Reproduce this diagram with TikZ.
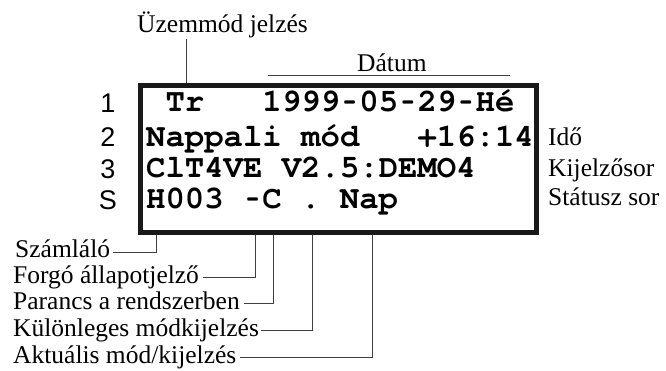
\documentclass[tikz,border=0pt]{standalone}
\usepackage{fontspec}
\usepackage{graphicx}
\setmainfont{Liberation Serif}
\newfontfamily\monof{TeX Gyre Cursor}
\newfontfamily\sansf{Liberation Sans}
\newcommand{\msp}{\hphantom{0}}
\newcommand{\hy}{\makebox[0.6em][c]{\scalebox{0.65}[1]{-}}}
\begin{document}
\begin{tikzpicture}[x=1pt,y=-1pt,
  lbl/.style={inner sep=0pt, anchor=base west, font=\fontsize{25.5}{26}\selectfont},
  mono/.style={inner sep=0pt, anchor=base west, font=\monof\bfseries\fontsize{32.3}{33}\selectfont},
  rown/.style={inner sep=0pt, anchor=base, font=\sansf\fontsize{27}{27}\selectfont},
  lead/.style={draw=black!75, line width=0.9pt},
  frame/.style={draw=black!90, line width=5pt, inner sep=0pt, outer sep=0pt,
    minimum width=396pt, minimum height=147pt, anchor=north west}]
\useasboundingbox (0,0) rectangle (666,371);

% display frame
\node[frame] (box) at (140,86) {};

% row numbers
\node[rown] (n1) at (108,113) {1};
\node[rown] (n2) at (108,147) {2};
\node[rown] (n3) at (108,179) {3};
\node[rown] (n4) at (108,210) {S};

% display rows
\node[mono] (r1) at (146,112) {\msp Tr\msp\msp\msp 1999\hy 05\hy 29\hy Hé};
\node[mono] (r2) at (146,147) {Nappali\msp mód\msp\msp\msp +16:14};
\node[mono] (r3) at (146,178) {ClT4VE\msp V2.5:DEMO4};
\node[mono] (r4) at (146,209) {H003\msp \hy C\msp .\msp Nap};

% top labels
\node[lbl] (uz) at (137,33) {Üzemmód jelzés};
\coordinate (tTr) at (186,83);
\draw[lead] (uz.south -| tTr) -- (tTr);
\node[lbl] (dat) at (357,72) {Dátum};
\coordinate (dL) at (268,75);
\coordinate (dR) at (510,75);
\draw[lead] (dL) -- (dR);

% right labels
\node[lbl] (ido) at (548,146) {Idő};
\node[lbl] (kij) at (548,177) {Kijelzősor};
\node[lbl] (sta) at (548,206) {Státusz sor};

% bottom labels
\node[lbl] (b1) at (15,258) {Számláló};
\node[lbl] (b2) at (13,283) {Forgó állapotjelző};
\node[lbl] (b3) at (13,309) {Parancs a rendszerben};
\node[lbl] (b4) at (13,336) {Különleges módkijelzés};
\node[lbl] (b5) at (13,363) {Aktuális mód/kijelzés};

\coordinate (t1) at (156,235);
\coordinate (t2) at (255,235);
\coordinate (t3) at (273,235);
\coordinate (t4) at (312,235);
\coordinate (t5) at (372,235);

\draw[lead] ([shift={(3,-6)}]b1.base east) -| (t1);
\draw[lead] ([shift={(4,-6)}]b2.base east) -| (t2);
\draw[lead] ([shift={(4,-6)}]b3.base east) -| (t3);
\draw[lead] ([shift={(2,-6)}]b4.base east) -| (t4);
\draw[lead] ([shift={(4,-6)}]b5.base east) -| (t5);
\end{tikzpicture}
\end{document}
